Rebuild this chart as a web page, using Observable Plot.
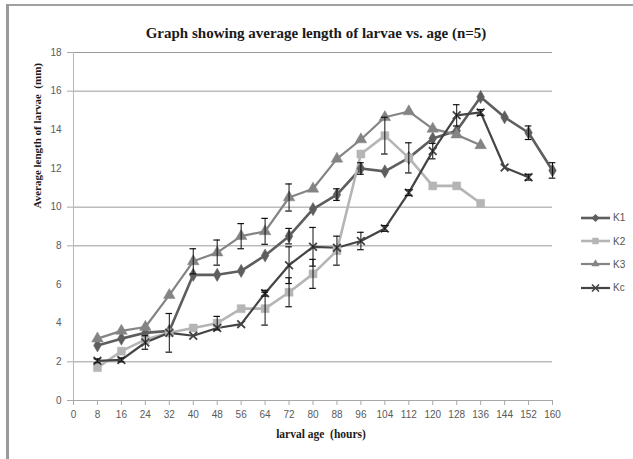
<!DOCTYPE html>
<html>
<head>
<meta charset="utf-8">
<script src="https://cdn.jsdelivr.net/npm/d3@7"></script>
<script src="https://cdn.jsdelivr.net/npm/@observablehq/plot@0.6"></script>
<style>
  html, body { margin: 0; padding: 0; background: #fff; }
  #wrap { position: relative; width: 633px; height: 459px; overflow: hidden; }
  #frame { position: absolute; left: 6px; top: 4px; width: 640px; height: 470px;
           border-left: 3px solid #9a9a9a; border-top: 2px solid #a0a0a0; pointer-events: none; }
  #legend { position: absolute; left: 580px; top: 206px; font: 10px "Liberation Sans", Arial, sans-serif; color: #555; }
  #legend .row { height: 23.4px; display: flex; align-items: center; }
  #legend svg { display: block; margin-right: 2px; }
</style>
</head>
<body>
<div id="wrap"><div id="chart"></div><div id="legend"></div><div id="frame"></div></div>
<script>
// ---- data ----
const ages = [8, 16, 24, 32, 40, 48, 56, 64, 72, 80, 88, 96, 104, 112, 120, 128, 136, 144, 152, 160];
const seriesNames = ["K1", "K2", "K3", "Kc"];
const k1 = [2.85, 3.2, 3.5, 3.6, 6.5, 6.5, 6.7, 7.5, 8.5, 9.9, 10.65, 12.0, 11.85, 12.55, 13.55, 13.95, 15.7, 14.65, 13.85, 11.9];
const k1Err = [0, 0, 0, 0, 0, 0, 0, 0, 0.4, 0, 0.3, 0.3, 0, 0, 0, 0, 0, 0, 0.35, 0.4];
const k2 = [1.7, 2.55, 3.15, 3.5, 3.75, 4.0, 4.75, 4.75, 5.6, 6.55, 7.75, 12.75, 13.7, 12.55, 11.1, 11.1, 10.2];
const k2Err = [0, 0, 0, 0, 0, 0.35, 0, 0.85, 0.75, 0.75, 0.75, 0, 0.95, 0.78, 0, 0, 0];
const k3 = [3.2, 3.6, 3.8, 5.45, 7.2, 7.65, 8.5, 8.75, 10.5, 10.95, 12.5, 13.5, 14.65, 14.95, 14.05, 13.75, 13.2];
const k3Err = [0, 0, 0, 0, 0.65, 0.65, 0.65, 0.67, 0.7, 0, 0, 0, 0, 0, 0, 0, 0];
const kc = [2.05, 2.1, 3.0, 3.5, 3.35, 3.75, 3.95, 5.55, 7.0, 7.95, 7.9, 8.25, 8.9, 10.75, 12.9, 14.75, 14.9, 12.05, 11.55];
const kcErr = [0.1, 0.1, 0.35, 1.0, 0, 0, 0, 0.15, 0.95, 1.0, 0, 0.45, 0.15, 0.15, 0.4, 0.55, 0.15, 0, 0.15];
const xTicks = [0, 8, 16, 24, 32, 40, 48, 56, 64, 72, 80, 88, 96, 104, 112, 120, 128, 136, 144, 152, 160];
const yTicks = [0, 2, 4, 6, 8, 10, 12, 14, 16, 18];
const yGrid = [2, 8, 10, 16, 18];
const yTickMarks = [0, 2, 8, 10, 16, 18];
const titleText = "Graph showing average length of larvae vs. age (n=5)";
const xTitle = "larval age  (hours)";
const yTitle = "Average length of larvae  (mm)";

// ---- styles ----
const styles = {
  K1: {color: "#5e5e5e", symbol: "diamond", r: 4.0, width: 2.6},
  K2: {color: "#b5b5b5", symbol: "square", r: 4.5, width: 2.6},
  K3: {color: "#848484", symbol: "triangle", r: 4.3, width: 2.2},
  Kc: {color: "#444444", symbol: "times", r: 3.6, width: 2.2}
};
const valueArrays = [k1, k2, k3, kc];
const errArrays = [k1Err, k2Err, k3Err, kcErr];

const rows = [];
seriesNames.forEach((name, i) => {
  valueArrays[i].forEach((v, j) => {
    rows.push({series: name, age: ages[j], value: v, err: errArrays[i][j]});
  });
});
const errRows = rows.filter(d => d.err > 0);

const serif = "'Liberation Serif', 'Times New Roman', serif";
const sans = "'Liberation Sans', Arial, sans-serif";
const capHalf = 1.1;

const marks = [
  Plot.ruleY(yGrid, {stroke: "#9a9a9a", strokeWidth: 1}),
  Plot.ruleX([0], {y1: 0, y2: 18, stroke: "#b8b8b8"}),
  Plot.ruleY([0], {stroke: "#a8a8a8"}),
  Plot.axisX({ticks: xTicks, tickSize: 5, tickPadding: 5, stroke: "#a8a8a8", fill: "#5a5a5a",
    fontSize: 10, fontFamily: sans, label: null}),
  Plot.axisY({ticks: yTickMarks, tickSize: 6, text: null, stroke: "#a8a8a8", label: null}),
  Plot.axisY({ticks: yTicks, tickSize: 0, tickPadding: 12, fill: "#5a5a5a", fontSize: 10, fontFamily: sans, label: null}),
];

seriesNames.forEach(name => {
  const st = styles[name];
  const data = rows.filter(d => d.series === name);
  marks.push(Plot.line(data, {x: "age", y: "value", stroke: st.color, strokeWidth: st.width, curve: "linear"}));
});
seriesNames.forEach(name => {
  const st = styles[name];
  const data = rows.filter(d => d.series === name);
  if (st.symbol === "times") {
    marks.push(Plot.dot(data, {x: "age", y: "value", symbol: "times", r: st.r, stroke: st.color, strokeWidth: 1.8}));
  } else {
    marks.push(Plot.dot(data, {x: "age", y: "value", symbol: st.symbol, r: st.r, fill: st.color, stroke: st.color, strokeWidth: 0.5}));
  }
});
// error bars
marks.push(Plot.ruleX(errRows, {x: "age", y1: d => d.value - d.err, y2: d => d.value + d.err, stroke: "#111", strokeWidth: 1}));
marks.push(Plot.ruleY(errRows, {y: d => d.value + d.err, x1: d => d.age - capHalf, x2: d => d.age + capHalf, stroke: "#111", strokeWidth: 1.2}));
marks.push(Plot.ruleY(errRows, {y: d => d.value - d.err, x1: d => d.age - capHalf, x2: d => d.age + capHalf, stroke: "#111", strokeWidth: 1.2}));

// titles
marks.push(Plot.text([titleText], {frameAnchor: "top", dy: -25, dx: 3, fontSize: 15, fontWeight: "bold", fontFamily: serif, fill: "#1a1a1a"}));
marks.push(Plot.text([xTitle], {frameAnchor: "bottom", dy: 37, dx: 8, fontSize: 11.5, fontWeight: "bold", fontFamily: serif, fill: "#1a1a1a"}));
marks.push(Plot.text([yTitle], {frameAnchor: "left", rotate: -90, dx: -36, dy: -18, fontSize: 11, fontWeight: "bold", fontFamily: serif, fill: "#1a1a1a"}));

const chart = Plot.plot({
  width: 633,
  height: 459,
  marginLeft: 73,
  marginRight: 81,
  marginTop: 52,
  marginBottom: 59,
  x: {domain: [0, 160], axis: null},
  y: {domain: [0, 18], axis: null},
  style: {background: "#fff", overflow: "visible"},
  marks
});
document.getElementById("chart").appendChild(chart);

// legend
const legend = document.getElementById("legend");
seriesNames.forEach(name => {
  const st = styles[name];
  const row = document.createElement("div");
  row.className = "row";
  const svg = d3.create("svg").attr("width", 31).attr("height", 12);
  svg.append("line").attr("x1", 1).attr("x2", 30).attr("y1", 6).attr("y2", 6)
    .attr("stroke", st.color).attr("stroke-width", st.width);
  const symMap = {diamond: d3.symbolDiamond2, square: d3.symbolSquare2, triangle: d3.symbolTriangle2, times: d3.symbolTimes};
  const path = svg.append("path").attr("transform", "translate(15.5,6)")
    .attr("d", d3.symbol(symMap[st.symbol], st.r * st.r * 2.6)());
  if (st.symbol === "times") path.attr("fill", "none").attr("stroke", st.color).attr("stroke-width", 1.6);
  else path.attr("fill", st.color);
  row.appendChild(svg.node());
  const label = document.createElement("span");
  label.textContent = name;
  row.appendChild(label);
  legend.appendChild(row);
});
</script>
</body>
</html>
